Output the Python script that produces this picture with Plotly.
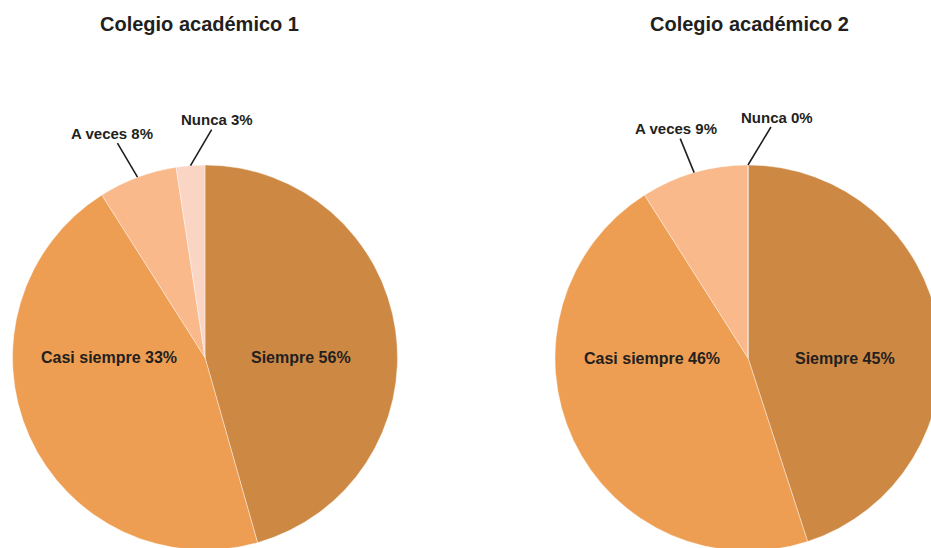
import math
import plotly.graph_objects as go

# ---------------- data ----------------
categories = ["Siempre", "Casi siempre", "A veces", "Nunca"]
titles = ["Colegio académico 1", "Colegio académico 2"]
# slice sizes as drawn (%)
values_1 = [45.6, 45.4, 6.6, 2.4]
values_2 = [45, 46, 9, 0]
# percentages printed in the labels
label_pct_1 = [56, 33, 8, 3]
label_pct_2 = [45, 46, 9, 0]
colors = ["#CD8843", "#ED9E52", "#F9B98A", "#FAD5C4"]

# ---------------- layout ----------------
W, H = 960, 560
FONT = "Liberation Sans, Arial, sans-serif"
TXT = "#231F20"

domains = [
    dict(x=[12.5 / W, 397.5 / W], y=[1 - 550 / H, 1 - 165 / H]),
    dict(x=[555 / W, 941 / W], y=[1 - 551 / H, 1 - 165 / H]),
]
title_x_px = [199.5, 749]
title_y_px = 24
# text offsets (px) of the outside labels from the slice edge, per pie
outside_offsets = [
    {"A veces": (-26, -44), "Nunca": (27, -46)},
    {"A veces": (-18, -44), "Nunca": (29, -48)},
]

fig = go.Figure()
annotations = []

for k, (vals, pcts) in enumerate([(values_1, label_pct_1), (values_2, label_pct_2)]):
    dom = domains[k]
    fig.add_trace(go.Pie(
        labels=categories, values=vals, sort=False, direction="clockwise",
        rotation=0, marker=dict(colors=colors, line=dict(color="white", width=0.4)),
        textinfo="none", hoverinfo="skip", domain=dom, showlegend=False,
    ))
    cx = W * (dom["x"][0] + dom["x"][1]) / 2
    cy = H * (1 - (dom["y"][0] + dom["y"][1]) / 2)
    r = min(W * (dom["x"][1] - dom["x"][0]), H * (dom["y"][1] - dom["y"][0])) / 2
    total = sum(vals)
    start = 0.0
    for cat, v, p in zip(categories, vals, pcts):
        span = 360.0 * v / total
        mid = math.radians(start + span / 2)
        start += span
        text = f"<b>{cat} {p}%</b>"
        if cat in outside_offsets[k]:
            ex = cx + r * math.sin(mid)
            ey = cy - r * math.cos(mid)
            ax, ay = outside_offsets[k][cat]
            annotations.append(dict(
                x=ex / W, y=1 - ey / H, xref="paper", yref="paper",
                text=text, showarrow=True, arrowhead=0, arrowwidth=1.6,
                arrowcolor=TXT, ax=ax, ay=ay, standoff=0,
                font=dict(family=FONT, size=15, color=TXT),
            ))
        else:
            side = 1 if math.sin(mid) > 0 else -1
            lx = cx + side * 0.5 * r
            annotations.append(dict(
                x=lx / W, y=1 - cy / H, xref="paper", yref="paper",
                text=text, showarrow=False, xanchor="center", yanchor="middle",
                font=dict(family=FONT, size=16, color=TXT),
            ))
    annotations.append(dict(
        x=title_x_px[k] / W, y=1 - title_y_px / H, xref="paper", yref="paper",
        text=f"<b>{titles[k]}</b>", showarrow=False, xanchor="center", yanchor="middle",
        font=dict(family=FONT, size=20, color=TXT),
    ))

fig.update_layout(
    width=W, height=H, margin=dict(l=0, r=0, t=0, b=0),
    paper_bgcolor="white", plot_bgcolor="white",
    annotations=annotations, hovermode=False,
)

fig.write_html(
    "out.html",
    config={"displayModeBar": False},
    post_script=(
        "document.body.style.margin='0';"
        "document.body.style.overflow='hidden';"
        "document.documentElement.style.overflow='hidden';"
    ),
)
